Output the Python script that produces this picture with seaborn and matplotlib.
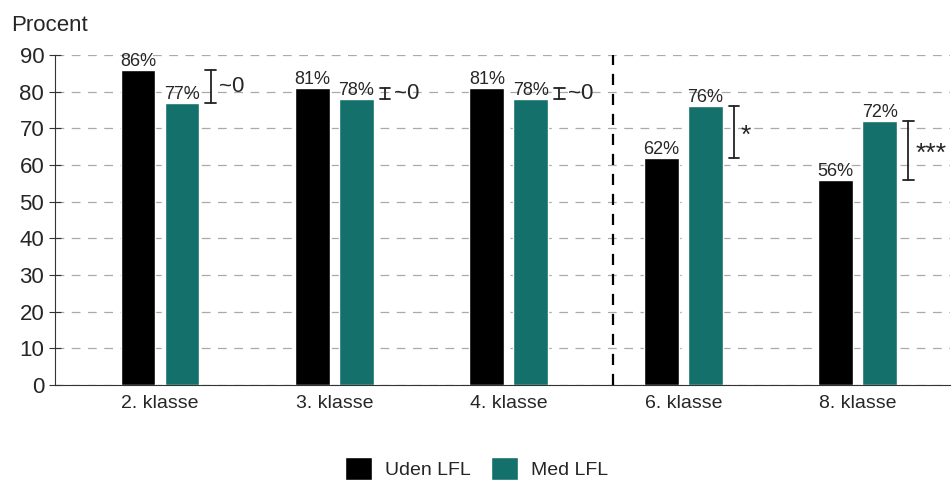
import pandas as pd
import numpy as np
import matplotlib.pyplot as plt
import seaborn as sns
from matplotlib.patches import Patch

# Data
klasser = ["2. klasse", "3. klasse", "4. klasse", "6. klasse", "8. klasse"]
uden_lfl = [86, 81, 81, 62, 56]
med_lfl = [77, 78, 78, 76, 72]
signif = ["~0", "~0", "~0", "*", "***"]
grupper = ["Uden LFL", "Med LFL"]

df = pd.DataFrame({
    "Klasse": klasser * 2,
    "Gruppe": [grupper[0]] * 5 + [grupper[1]] * 5,
    "Procent": uden_lfl + med_lfl,
})

sns.set_style("white")
plt.rcParams["font.family"] = ["Liberation Sans", "DejaVu Sans"]

farver = {"Uden LFL": "#000000", "Med LFL": "#13706a"}

fig = plt.figure(figsize=(9.53, 4.83), dpi=100)
ax = fig.add_axes([0.058, 0.203, 0.939, 0.683])

sns.barplot(data=df, x="Klasse", y="Procent", hue="Gruppe", palette=farver,
            width=0.504, gap=0.21, ax=ax, legend=False, saturation=1)

ax.set_ylim(0, 90)
ax.set_xlim(-0.6, 4.53)
ax.set_yticks(range(0, 91, 10))
ax.yaxis.grid(True, linestyle=(0, (7, 6)), color="#aaaaaa", linewidth=0.9)
ax.set_axisbelow(True)
for s in ["top", "right"]:
    ax.spines[s].set_visible(False)
ax.spines["left"].set_color("#333333")
ax.spines["bottom"].set_color("#333333")
ax.tick_params(axis="y", direction="inout", length=8, width=0.8, color="#333333",
               labelsize=16, left=True, pad=4)
ax.tick_params(axis="x", length=0, labelsize=14, pad=7)
ax.set_xlabel("")
ax.set_ylabel("")
fig.text(0.012, 0.948, "Procent", fontsize=16, ha="left", va="center")

# bar labels
for c in ax.containers:
    ax.bar_label(c, labels=[f"{v:.0f}%" for v in c.datavalues], fontsize=13, padding=0)

# significance brackets
for i, (u, m, s) in enumerate(zip(uden_lfl, med_lfl, signif)):
    bx = i + 0.29
    lo, hi = min(u, m), max(u, m)
    ax.plot([bx, bx], [lo, hi], color="#222222", lw=1.3)
    ax.plot([bx - 0.03, bx + 0.03], [lo, lo], color="#222222", lw=1.3)
    ax.plot([bx - 0.03, bx + 0.03], [hi, hi], color="#222222", lw=1.3)
    if s == "~0":
        ax.text(bx + 0.05, (lo + hi) / 2, s, fontsize=16, ha="left", va="center")
    else:
        ax.text(bx + 0.04, (lo + hi) / 2 - 1.0, s, fontsize=19, ha="left", va="center")

# divider
ax.axvline(2.6, ymin=0, ymax=1, color="black", linestyle=(0, (5, 4)), lw=1.6)

handles = [Patch(facecolor=farver[g], label=g) for g in grupper]
fig.legend(handles=handles, loc="center", bbox_to_anchor=(0.5, 0.03), ncol=2,
           frameon=False, fontsize=14, handlelength=1.4, handleheight=1.4,
           columnspacing=1.0, handletextpad=0.7)

plt.savefig("out.png", dpi=100)
